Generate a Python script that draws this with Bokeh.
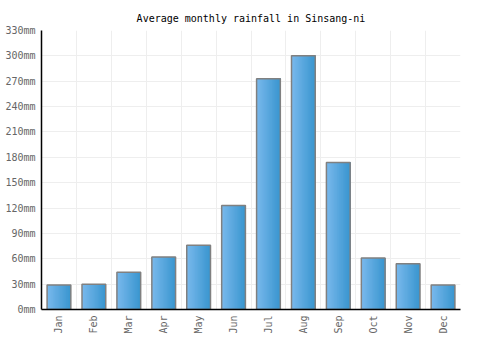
import math
from bokeh.plotting import figure
from bokeh.models import FixedTicker, PrintfTickFormatter, Range1d
from bokeh.embed import file_html
from bokeh.resources import INLINE

months = ["Jan", "Feb", "Mar", "Apr", "May", "Jun", "Jul", "Aug", "Sep", "Oct", "Nov", "Dec"]
rainfall = [29, 30, 44, 62, 76, 123, 273, 300, 174, 61, 54, 29]
y_ticks = [0, 30, 60, 90, 120, 150, 180, 210, 240, 270, 300, 330]

FONT = "DejaVu Sans Mono"

p = figure(
    width=500, height=350,
    frame_width=419, frame_height=279,
    output_backend="svg", toolbar_location=None,
    x_range=Range1d(0, len(months)), y_range=Range1d(0, 330),
    title="Average monthly rainfall in Sinsang-ni",
)
p.min_border_left = 41
p.min_border_right = 40
p.min_border_top = 30
p.min_border_bottom = 41
p.outline_line_color = None
p.background_fill_color = "white"
p.border_fill_color = "white"

p.title.align = "center"
p.title.text_font = FONT
p.title.text_font_size = "10px"
p.title.text_font_style = "normal"
p.title.text_color = "#000000"
p.title.offset = 0
p.title.standoff = 14

centers = [i + 0.5 for i in range(len(months))]
bar_w = 0.68

# gradient fill made of overlapping strips (each reaches the bar's right edge)
c0 = (0x78, 0xb8, 0xec)
c1 = (0x3a, 0x96, 0xcf)
n = 20
sw = bar_w / n
rights = [c + bar_w / 2 for c in centers]
for k in range(n):
    t = k / (n - 1)
    col = "#%02x%02x%02x" % tuple(int(round(a + (b - a) * t)) for a, b in zip(c0, c1))
    lefts = [c - bar_w / 2 + sw * k for c in centers]
    p.quad(left=lefts, right=rights, top=rainfall, bottom=0, fill_color=col, line_color=None)

p.vbar(x=centers, width=bar_w, top=rainfall, bottom=0, fill_color=None,
       line_color="#808080", line_width=1.5)

# axes
p.xaxis.ticker = FixedTicker(ticks=centers)
p.xaxis.major_label_overrides = {c: m for c, m in zip(centers, months)}
p.xaxis.major_label_orientation = math.pi / 2
p.yaxis.ticker = FixedTicker(ticks=y_ticks)
p.yaxis.formatter = PrintfTickFormatter(format="%dmm")

for ax in (p.xaxis[0], p.yaxis[0]):
    ax.axis_line_color = "#000000"
    ax.axis_line_width = 1.5
    ax.major_tick_line_color = None
    ax.minor_tick_line_color = None
    ax.major_tick_out = 0
    ax.major_tick_in = 0
    ax.minor_tick_out = 0
    ax.minor_tick_in = 0
    ax.major_label_text_font = FONT
    ax.major_label_text_font_size = "10px"
    ax.major_label_text_color = "#666666"
    ax.major_label_standoff = 6

p.xgrid.ticker = FixedTicker(ticks=list(range(0, len(months) + 1)))
p.xgrid.grid_line_color = "#eeeeee"
p.ygrid.grid_line_color = "#eeeeee"
p.xgrid.level = "underlay"
p.ygrid.level = "underlay"

open("out.html", "w").write(file_html(p, INLINE))
